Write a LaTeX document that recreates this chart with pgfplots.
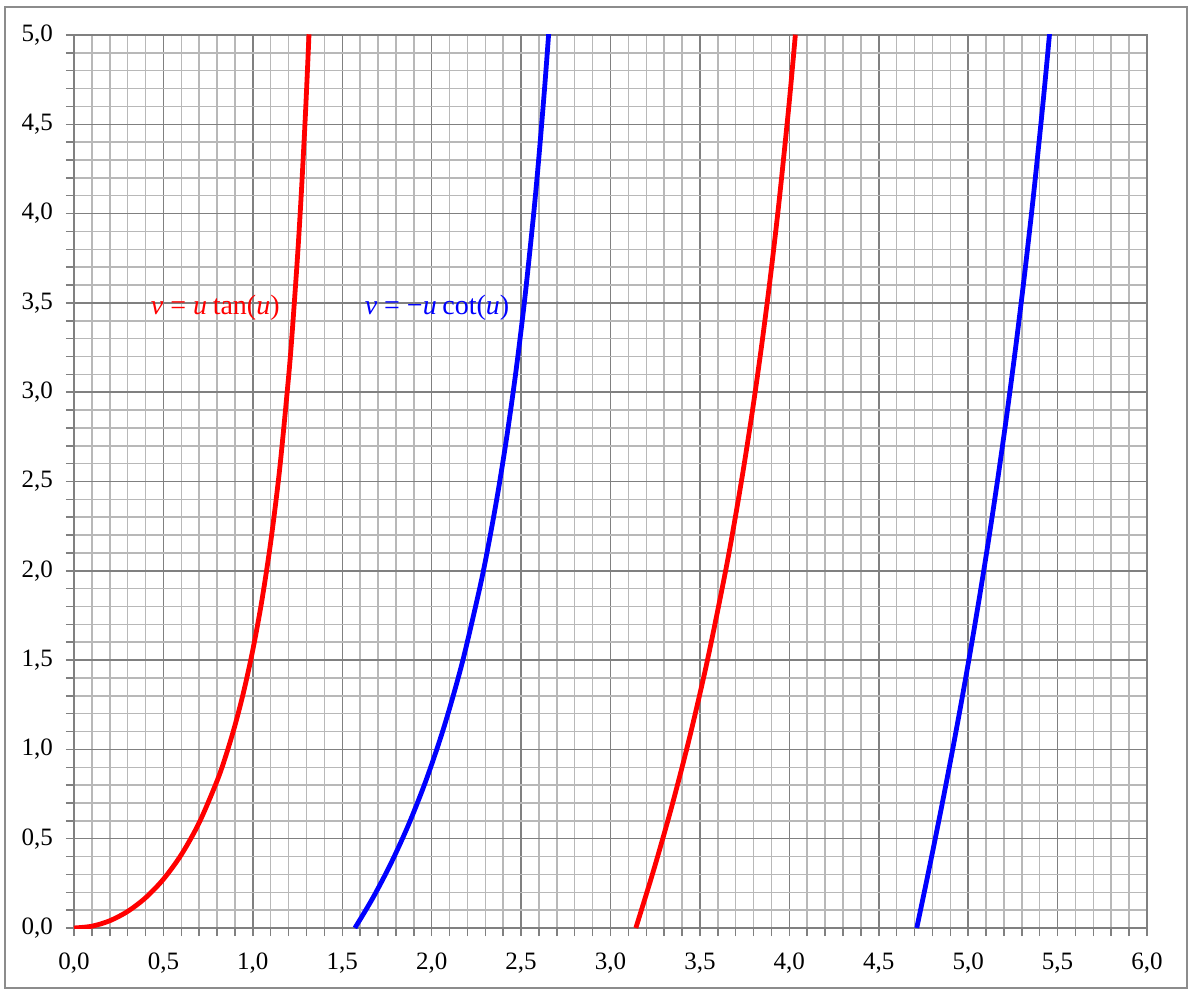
\documentclass[border=0pt]{standalone}
\usepackage{fontspec}
\setmainfont{Liberation Serif}
\usepackage{pgfplots}
\pgfplotsset{compat=1.18}
\begin{document}
\begin{tikzpicture}
\begin{axis}[
  scale only axis, width=536.5pt, height=446.5pt,
  xmin=0, xmax=6, ymin=0, ymax=5,
  xtick={0,0.5,1,1.5,2,2.5,3,3.5,4,4.5,5,5.5,6},
  ytick={0,0.5,1,1.5,2,2.5,3,3.5,4,4.5,5},
  minor x tick num=4, minor y tick num=4,
  grid=both,
  major grid style={draw=black!50, line width=0.75pt},
  minor grid style={draw=black!28, line width=0.75pt},
  axis line style={draw=black!50, line width=0.75pt},
  tick align=outside, tick pos=left,
  major tick length=4pt, minor tick length=4pt,
  every tick/.style={black!50, line width=0.75pt},
  ticklabel style={font=\fontsize{12.5}{14}\selectfont},
  xticklabel style={yshift=-5pt},
  yticklabel style={xshift=-3pt},
  /pgf/number format/.cd, use comma, fixed, fixed zerofill, precision=1, assume math mode=true,
]
\addplot[red, line width=2.4pt, smooth] coordinates {
(0,0) (0.1,0.01003) (0.2,0.04054) (0.3,0.09280) (0.4,0.16912) (0.5,0.27315)
(0.6,0.41048) (0.7,0.58960) (0.8,0.82371) (0.85,0.96758) (0.9,1.13414)
(0.95,1.32846) (1.0,1.55741) (1.05,1.83049) (1.1,2.16124) (1.15,2.56968)
(1.2,3.08658) (1.22,3.334) (1.25,3.76196) (1.27,4.094) (1.29,4.4727)
(1.30,4.6827) (1.31,4.9087) (1.314,5.0039)
};
\addplot[blue, line width=2.4pt, smooth] coordinates {
(1.5708,0) (1.6708,0.16764) (1.7708,0.35896) (1.8708,0.57871) (1.9708,0.83324)
(2.0708,1.13128) (2.1708,1.48513) (2.2708,1.91267) (2.3208,2.16206)
(2.3708,2.44107) (2.4208,2.75567) (2.4708,3.11360) (2.5208,3.52501)
(2.5708,4.00379) (2.6008,4.33096) (2.6308,4.69453) (2.6508,4.96021) (2.6558,5.0299)
};
\addplot[red, line width=2.4pt, smooth] coordinates {
(3.1416,0) (3.2416,0.32523) (3.3416,0.67738) (3.4416,1.06463) (3.5416,1.49735)
(3.6416,1.98941) (3.6916,2.26336) (3.7416,2.55977) (3.7916,2.88239)
(3.8416,3.23573) (3.8916,3.62541) (3.9416,4.05843) (3.9916,4.54376)
(4.0116,4.75495) (4.0316,4.97747) (4.0336,5.0003)
};
\addplot[blue, line width=2.4pt, smooth] coordinates {
(4.7124,0) (4.7624,0.23833) (4.8124,0.48284) (4.8624,0.73490) (4.9124,0.99580)
(4.9624,1.26710) (5.0124,1.55054) (5.0624,1.84793) (5.1124,2.16147)
(5.1624,2.49375) (5.2124,2.84754) (5.2624,3.22643) (5.3124,3.63441)
(5.3624,4.07650) (5.4124,4.55881) (5.4424,4.87052) (5.4624,5.08877)
};
\node[red, font=\fontsize{14}{16}\selectfont, inner sep=0pt] at (axis cs:0.79,3.475)
  {\textit{v}\hspace{0.25em}=\hspace{0.25em}\textit{u}\hspace{0.2em}tan(\textit{u})};
\node[blue, font=\fontsize{14}{16}\selectfont, inner sep=0pt] at (axis cs:2.03,3.475)
  {\textit{v}\hspace{0.25em}=\hspace{0.25em}−\textit{u}\hspace{0.2em}cot(\textit{u})};
\end{axis}
\draw[black!45, line width=0.8pt] ([xshift=-34.5pt,yshift=-30pt]current axis.south west)
  rectangle ([xshift=20pt,yshift=14pt]current axis.north east);
\path ([xshift=-37pt,yshift=-30.5pt]current axis.south west)
  rectangle ([xshift=22.5pt,yshift=17.5pt]current axis.north east);
\end{tikzpicture}
\end{document}
